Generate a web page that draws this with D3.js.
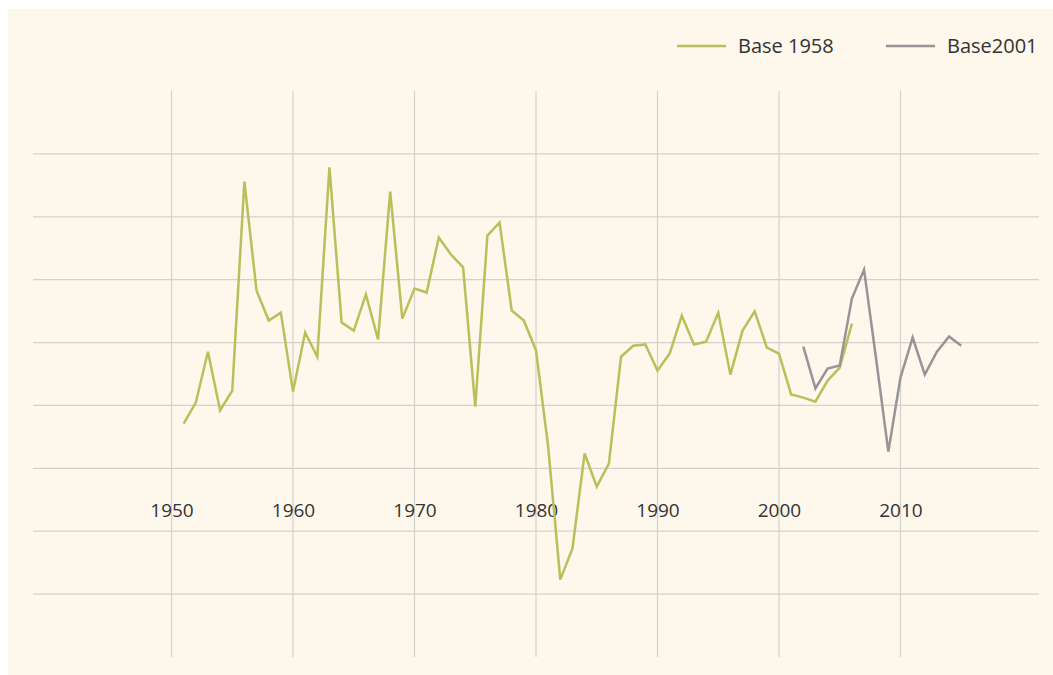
<!DOCTYPE html>
<html>
<head>
<meta charset="utf-8">
<script src="https://cdn.jsdelivr.net/npm/d3@7"></script>
<style>
  body { margin: 0; background: #ffffff; }
  svg { display: block; font-family: "Open Sans", Lato, sans-serif; }
  .grid line { stroke: #d3d1cc; stroke-width: 1.2; }
  .xaxis text { font-size: 19px; fill: #333333; }
  .legend text { font-size: 20px; fill: #333333; }
</style>
</head>
<body>
<div id="vis"></div>
<script>
const FRAME_WIDTH = 1053;
const FRAME_HEIGHT = 675;
const PLOT = {left: 33, right: 1039, top: 91, bottom: 657};

// data
const YEARS_1958 = [1951, 1952, 1953, 1954, 1955, 1956, 1957, 1958, 1959, 1960,
  1961, 1962, 1963, 1964, 1965, 1966, 1967, 1968, 1969, 1970,
  1971, 1972, 1973, 1974, 1975, 1976, 1977, 1978, 1979, 1980,
  1981, 1982, 1983, 1984, 1985, 1986, 1987, 1988, 1989, 1990,
  1991, 1992, 1993, 1994, 1995, 1996, 1997, 1998, 1999, 2000,
  2001, 2002, 2003, 2004, 2005, 2006];
const VALUES_1958 = [-2.58, -1.91, -0.29, -2.16, -1.53, 5.12, 1.65, 0.70, 0.95, -1.56,
  0.32, -0.45, 5.57, 0.64, 0.38, 1.53, 0.10, 4.80, 0.76, 1.72,
  1.59, 3.34, 2.80, 2.39, -2.04, 3.40, 3.82, 1.02, 0.70, -0.25,
  -3.31, -7.54, -6.55, -3.53, -4.58, -3.85, -0.45, -0.10, -0.06, -0.89,
  -0.35, 0.86, -0.06, 0.03, 0.95, -1.02, 0.38, 0.99, -0.16, -0.35,
  -1.65, -1.75, -1.88, -1.21, -0.80, 0.60];
const YEARS_2001 = [2002, 2003, 2004, 2005, 2006, 2007, 2008, 2009, 2010,
  2011, 2012, 2013, 2014, 2015];
const VALUES_2001 = [-0.13, -1.46, -0.83, -0.73, 1.40, 2.32, -0.54, -3.47, -1.11,
  0.16, -1.02, -0.29, 0.19, -0.10];
const X_TICKS = [1950, 1960, 1970, 1980, 1990, 2000, 2010];
const Y_TICKS = [-8, -6, -4, -2, 0, 2, 4, 6];
const SERIES_NAMES = ["Base 1958", "Base2001"];
const COLORS = ["#bcbe5a", "#959595"];

const X_SCALE = d3.scaleLinear()
  .domain([1938.6, 2021.4])
  .range([PLOT.left, PLOT.right]);
const Y_SCALE = d3.scaleLinear()
  .domain([-10, 8])
  .range([PLOT.bottom, PLOT.top]);

const FRAME = d3.select("#vis")
  .append("svg")
    .attr("width", FRAME_WIDTH)
    .attr("height", FRAME_HEIGHT);

// cream panel
FRAME.append("rect")
  .attr("x", 8)
  .attr("y", 9)
  .attr("width", FRAME_WIDTH - 8)
  .attr("height", FRAME_HEIGHT - 9)
  .attr("fill", "#fdf7ec");

// grid
const GRID = FRAME.append("g").attr("class", "grid");
GRID.selectAll(".hline")
  .data(Y_TICKS)
  .enter()
  .append("line")
    .attr("x1", PLOT.left)
    .attr("x2", PLOT.right)
    .attr("y1", (d) => Y_SCALE(d))
    .attr("y2", (d) => Y_SCALE(d));
GRID.selectAll(".vline")
  .data(X_TICKS)
  .enter()
  .append("line")
    .attr("x1", (d) => X_SCALE(d))
    .attr("x2", (d) => X_SCALE(d))
    .attr("y1", PLOT.top)
    .attr("y2", PLOT.bottom);

// x axis labels sit in the middle of the plot
const XAXIS = FRAME.append("g")
  .attr("class", "xaxis")
  .attr("transform", "translate(0," + 503 + ")")
  .call(d3.axisBottom(X_SCALE)
    .tickValues(X_TICKS)
    .tickFormat(d3.format("d"))
    .tickSize(0)
    .tickPadding(0));
XAXIS.select(".domain").remove();
XAXIS.attr("font-size", null).attr("font-family", null);

// lines
const LINE = d3.line()
  .x((d) => X_SCALE(d[0]))
  .y((d) => Y_SCALE(d[1]));

const SERIES = [
  d3.zip(YEARS_1958, VALUES_1958),
  d3.zip(YEARS_2001, VALUES_2001)
];

FRAME.selectAll(".series")
  .data(SERIES)
  .enter()
  .append("path")
    .attr("d", LINE)
    .attr("fill", "none")
    .attr("stroke", (d, i) => COLORS[i])
    .attr("stroke-width", 2.5)
    .attr("stroke-linejoin", "miter");

// legend
const LEGEND_X = [677, 886];
const LEGEND = FRAME.append("g").attr("class", "legend");
SERIES_NAMES.forEach((name, i) => {
  LEGEND.append("line")
    .attr("x1", LEGEND_X[i])
    .attr("x2", LEGEND_X[i] + 49)
    .attr("y1", 46)
    .attr("y2", 46)
    .attr("stroke", COLORS[i])
    .attr("stroke-width", 2.5);
  LEGEND.append("text")
    .attr("x", LEGEND_X[i] + 61)
    .attr("y", 53)
    .text(name);
});
</script>
</body>
</html>
